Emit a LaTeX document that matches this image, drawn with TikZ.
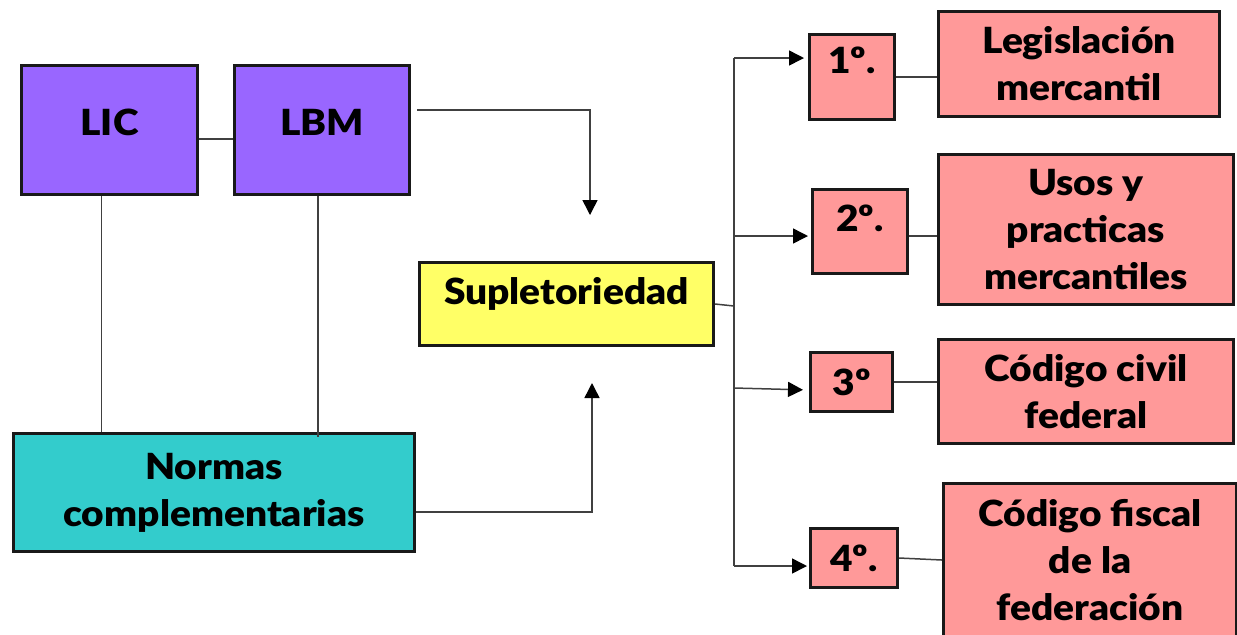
\documentclass[tikz,border=0pt]{standalone}
\usepackage{fontspec}
\setmainfont{Lato}[BoldFont={Lato Black}, BoldFeatures={FakeStretch=1.08}]
\usetikzlibrary{arrows.meta}

\definecolor{lila}{HTML}{9966FF}
\definecolor{amarillo}{HTML}{FFFF66}
\definecolor{turquesa}{HTML}{33CCCC}
\definecolor{rosa}{HTML}{FF9999}

\tikzset{
  caja/.style 2 args={draw=black!90, line width=1.5pt, align=center,
    minimum width=#1*\u, minimum height=#2*\u, inner sep=0pt,
    font=\bfseries\fontsize{18}{23.5}\selectfont},
  lift/.style={text depth=#1*\u},
  enlace/.style={draw=black!75, line width=0.75pt},
  flecha/.style={enlace, -{Triangle[length=7.5pt,width=7.5pt,black]}}
}

\begin{document}
\begin{tikzpicture}[x=0.5pt, y=-0.5pt]
 \def\u{0.5pt}
 \useasboundingbox (0,0) rectangle (1237,634);

 % leyes y normas
 \node[caja={176}{129}, fill=lila, lift=16] (lic) at (109.5,130) {LIC};
 \node[caja={175}{129}, fill=lila, lift=16] (lbm) at (322,130) {LBM};
 \node[caja={401}{118}, fill=turquesa] (normas) at (214,492.5) {Normas\\complementarias};
 \node[caja={294}{83}, fill=amarillo, lift=27] (supl) at (566.5,304) {Supletoriedad};

 % orden de prelacion
 \node[caja={85}{85}, fill=rosa, lift=34] (n1) at (852,77) {1º.};
 \node[caja={95}{84}, fill=rosa, lift=26] (n2) at (860,231.5) {2º.};
 \node[caja={82}{59}, fill=rosa] (n3) at (851.5,382) {3º};
 \node[caja={87}{59}, fill=rosa] (n4) at (854,558) {4º.};

 \node[caja={281}{105}, fill=rosa] (leg) at (1079,64) {Legislación\\mercantil};
 \node[caja={295}{150}, fill=rosa] (usos) at (1086,229.5) {Usos y\\practicas\\mercantiles};
 \node[caja={295}{104}, fill=rosa] (civil) at (1086,391.5) {Código civil\\federal};
 \node[caja={293}{153}, fill=rosa] (fiscal) at (1090,560) {Código fiscal\\de la\\federación};

 % lineas de la izquierda
 \draw[enlace] ([yshift=-9*\u]lic.east) -- ([yshift=-9*\u]lbm.west);
 \draw[enlace] ([xshift=-8*\u]lic.south) -- ([xshift=-8*\u]lic.south |- normas.north);
 \draw[enlace] ([xshift=-4*\u]lbm.south) -- ([xshift=-4*\u,yshift=-5*\u]lbm.south |- normas.north);

 \coordinate (in1) at (590,215);
 \coordinate (in2) at (592,383);
 \draw[flecha] ([xshift=6*\u,yshift=20*\u]lbm.east) -| (in1);
 \draw[flecha] ([yshift=-19.5*\u]normas.east) -| (in2);

 % reparto
 \coordinate (bus) at (734,306);
 \coordinate (b1) at (734,58);
 \coordinate (b2) at (734,236);
 \coordinate (b3) at (734,388);
 \coordinate (b4) at (734,566);
 \draw[enlace] (supl.east) -- (bus);
 \draw[enlace] (b1) -- (b4);
 \draw[flecha, shorten >=2pt] (b1) -- (b1 -| n1.west);
 \draw[flecha, shorten >=1.5pt] (b2) -- (b2 -| n2.west);
 \draw[flecha, shorten >=3pt] (b3) -- ([yshift=-8*\u]n3.west);
 \draw[flecha, shorten >=1pt] (b4) -- (b4 -| n4.west);

 \draw[enlace] (n1.east) -- (n1.east -| leg.west);
 \draw[enlace] ([yshift=-4.5*\u]n2.east) -- ([yshift=-4.5*\u]n2.east -| usos.west);
 \draw[enlace] (n3.east) -- (n3.east -| civil.west);
 \draw[enlace] (n4.east) -- (fiscal.west);

\end{tikzpicture}
\end{document}
